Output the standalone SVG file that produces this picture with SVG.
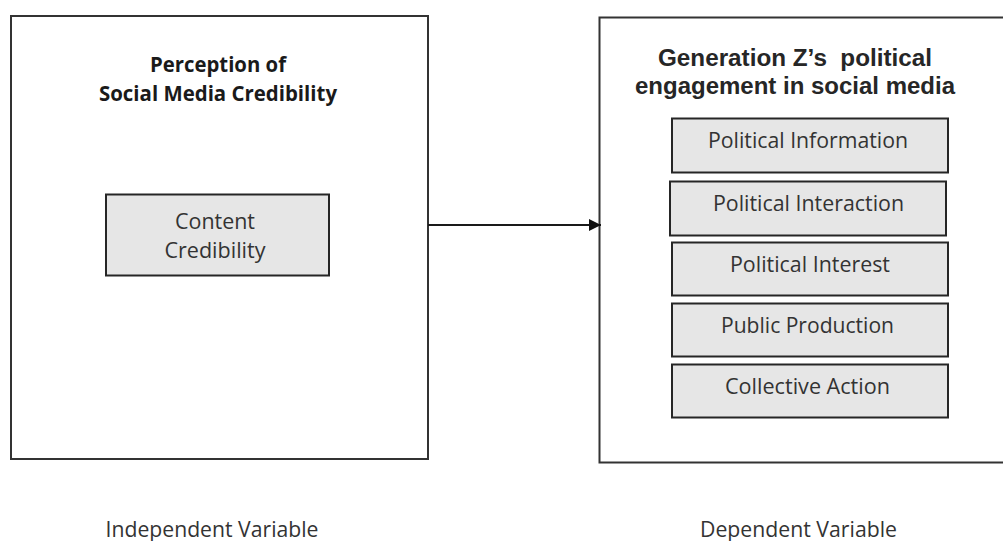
<svg xmlns="http://www.w3.org/2000/svg" width="1003" height="541" viewBox="0 0 1003 541">
  <defs>
    <style>
      .frame { fill: #ffffff; stroke: #333333; stroke-width: 2; }
      .item { fill: #e6e6e6; stroke: #262626; stroke-width: 2; }
      .head { font-family: "Open Sans", "Noto Sans", sans-serif; font-weight: bold; font-size: 21px; fill: #1a1a1a; text-anchor: middle; }
      .head-arial { font-family: "Liberation Sans", Arial, sans-serif; font-weight: bold; font-size: 23px; fill: #262626; text-anchor: middle; }
      .label { font-family: "Open Sans", "Noto Sans", sans-serif; font-size: 21px; fill: #333333; text-anchor: middle; }
      .caption { font-family: "Open Sans", "Noto Sans", sans-serif; font-size: 21px; fill: #333333; text-anchor: middle; }
      .link { stroke: #1a1a1a; stroke-width: 2; fill: none; }
    </style>
    <marker id="arrow" markerWidth="12" markerHeight="12" refX="12" refY="6" orient="auto" markerUnits="userSpaceOnUse">
      <path d="M0,0 L12,6 L0,12 Z" fill="#111111"/>
    </marker>
  </defs>

  <rect width="1003" height="541" fill="#ffffff"/>

  <!-- Independent variable block -->
  <g id="independent">
    <rect class="frame" x="11" y="16" width="417" height="443"/>
    <text class="head" x="218" y="72" textLength="136" lengthAdjust="spacingAndGlyphs">Perception of</text>
    <text class="head" x="218" y="101" textLength="238" lengthAdjust="spacingAndGlyphs">Social Media Credibility</text>
  </g>

  <g id="content-credibility">
    <rect class="item" x="106" y="194.5" width="223" height="81"/>
    <text class="label" x="215" y="228.5" textLength="80" lengthAdjust="spacingAndGlyphs">Content</text>
    <text class="label" x="215" y="257.5" textLength="101" lengthAdjust="spacingAndGlyphs">Credibility</text>
  </g>

  <!-- Dependent variable block (runs past the right edge) -->
  <g id="dependent">
    <rect class="frame" x="599.5" y="17.5" width="420" height="445"/>
    <text class="head-arial" x="795" y="66" textLength="274" lengthAdjust="spacingAndGlyphs" xml:space="preserve">Generation Z’s  political</text>
    <text class="head-arial" x="795" y="94" textLength="320" lengthAdjust="spacingAndGlyphs">engagement in social media</text>
  </g>

  <g id="political-information">
    <rect class="item" x="672" y="118.5" width="276" height="54"/>
    <text class="label" x="808" y="148" textLength="200" lengthAdjust="spacingAndGlyphs">Political Information</text>
  </g>

  <g id="political-interaction">
    <rect class="item" x="670" y="181.5" width="276" height="54"/>
    <text class="label" x="808.5" y="211" textLength="191" lengthAdjust="spacingAndGlyphs">Political Interaction</text>
  </g>

  <g id="political-interest">
    <rect class="item" x="672" y="242.5" width="276" height="53"/>
    <text class="label" x="810" y="272" textLength="160" lengthAdjust="spacingAndGlyphs">Political Interest</text>
  </g>

  <g id="public-production">
    <rect class="item" x="672" y="303.5" width="276" height="53"/>
    <text class="label" x="807.5" y="333" textLength="173" lengthAdjust="spacingAndGlyphs">Public Production</text>
  </g>

  <g id="collective-action">
    <rect class="item" x="672" y="364.5" width="276" height="53"/>
    <text class="label" x="807.5" y="393.5" textLength="165" lengthAdjust="spacingAndGlyphs">Collective Action</text>
  </g>

  <!-- Connectors -->
  <g id="connectors">
    <line class="link" x1="428" y1="225" x2="601" y2="225" marker-end="url(#arrow)"/>
  </g>

  <!-- Captions -->
  <g id="captions">
    <text class="caption" x="212" y="537" textLength="213" lengthAdjust="spacingAndGlyphs">Independent Variable</text>
    <text class="caption" x="798.5" y="537" textLength="197" lengthAdjust="spacingAndGlyphs">Dependent Variable</text>
  </g>
</svg>
